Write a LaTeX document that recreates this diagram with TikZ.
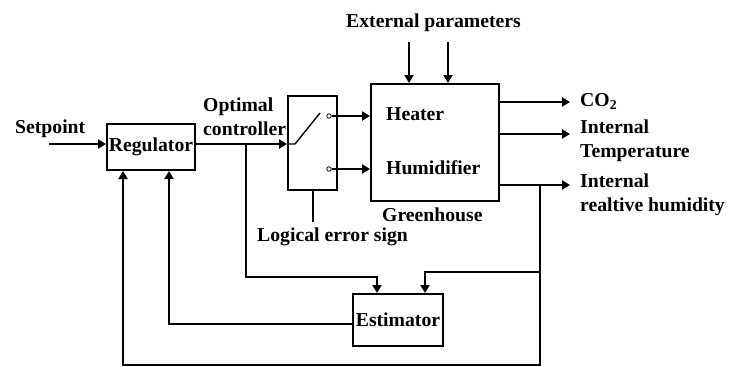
\documentclass[tikz,border=0pt]{standalone}
\usepackage{fontspec}
\setmainfont{Liberation Serif}
\usetikzlibrary{arrows.meta}
\begin{document}
\begin{tikzpicture}[x=1pt,y=-1pt,
  lbl/.style={font=\fontsize{19.7}{24}\selectfont\bfseries, inner sep=0pt},
  blk/.style={draw, line width=2pt, inner sep=0pt, font=\fontsize{19.7}{24}\selectfont\bfseries},
  ln/.style={line width=2pt},
  arr/.style={ln, -{Triangle[length=8pt,width=9pt]}},
  pin/.style={circle, draw, line width=0.8pt, inner sep=0pt, minimum size=4.5pt, fill=white}]
\useasboundingbox (0,0) rectangle (729,367);
% blocks
\node[blk, minimum width=88pt, minimum height=46pt] (reg) at (151,147) {Regulator};
\node[blk, minimum width=49pt, minimum height=94pt] (sw) at (312.5,143) {};
\node[blk, minimum width=128pt, minimum height=117pt] (gh) at (435,142.5) {};
\node[blk, minimum width=90pt, minimum height=52pt] (est) at (398,320) {Estimator};
% labels
\node[lbl, anchor=base west] (setp) at (15,133) {Setpoint};
\node[lbl, anchor=north west, align=left] (optc) at (203,98) {Optimal\\controller};
\node[lbl, anchor=base west] (ext) at (346,27) {External parameters};
\node[lbl, anchor=base west] (heat) at (386,120.5) {Heater};
\node[lbl, anchor=base west] (humi) at (386,174) {Humidifier};
\node[lbl, anchor=base west] (ghl) at (382,221.5) {Greenhouse};
\node[lbl, anchor=base west] (logl) at (257,241) {Logical error sign};
\node[lbl, anchor=base west] (co2) at (580,106) {CO\textsubscript{2}};
\node[lbl, anchor=north west, align=left] (itemp) at (580,120) {Internal\\Temperature};
\node[lbl, anchor=north west, align=left] (ihum) at (580,174) {Internal\\realtive humidity};
% coordinates
\coordinate (sp) at (49,144);
\coordinate (tap) at (246,144);
\coordinate (s0) at (295,144);
\coordinate (s1) at (320,113);
\coordinate (sb) at (312.5,222);
\coordinate (e1) at (409,42);
\coordinate (e2) at (448,42);
\coordinate (o1) at (570,102);
\coordinate (o2) at (570,134);
\coordinate (o3) at (570,185);
\coordinate (j1) at (540,185);
\coordinate (j2) at (540,272);
\coordinate (c1) at (377,277);
\coordinate (c2) at (425,272);
\coordinate (el) at (169,324);
\coordinate (bl) at (123,365);
% switch
\node[pin] (k1) at (329,116) {};
\node[pin] (k2) at (329,169) {};
\draw[line width=1.4pt] (sw.west |- sp) -- (s0) -- (s1);
\draw[ln] (sw.south) -- (sb);
% connectors
\draw[arr] (sp) -- (reg.west |- sp);
\draw[arr] (reg.east |- sp) -- (sw.west |- sp);
\draw[arr] (k1.east) -- (gh.west |- k1);
\draw[arr] (k2.east) -- (gh.west |- k2);
\draw[arr] (e1) -- (e1 |- gh.north);
\draw[arr] (e2) -- (e2 |- gh.north);
\draw[arr] (gh.east |- o1) -- (o1);
\draw[arr] (gh.east |- o2) -- (o2);
\draw[arr] (gh.east |- o3) -- (o3);
\draw[arr] (tap) |- (c1) -- (c1 |- est.north);
\draw[arr] (j2) -| (c2) -- (c2 |- est.north);
\draw[arr] (j1) |- (bl) -- (bl |- reg.south);
\draw[arr] (est.west |- el) -- (el) -- (el |- reg.south);
\end{tikzpicture}
\end{document}
